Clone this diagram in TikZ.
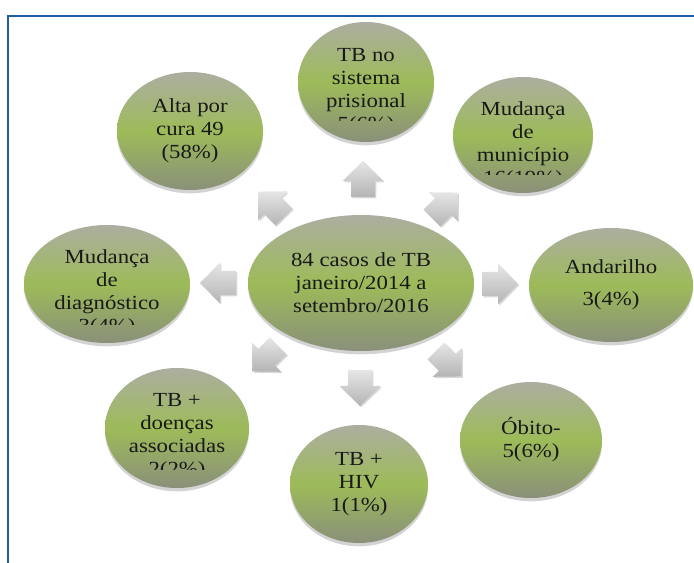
\documentclass[tikz,border=0pt]{standalone}
\usepackage{fontspec}
\setmainfont{Liberation Serif}[FakeStretch=1.14]
\usepackage{tikz}
\usetikzlibrary{shapes.geometric, shadows}

\definecolor{frameblue}{RGB}{30,92,165}
\definecolor{olive}{RGB}{157,187,89}
\definecolor{greytop}{RGB}{172,174,160}
\definecolor{greybot}{RGB}{138,144,122}
\definecolor{arrowlight}{RGB}{230,230,230}
\definecolor{arrowdark}{RGB}{180,180,180}

\begin{document}
\begin{tikzpicture}[x=0.75pt, y=-0.75pt,
                    font=\fontsize{15}{17.25}\selectfont]
\tikzstyle{bubble}=[shape=ellipse, inner sep=0pt, align=center, text=black!90,
                    top color=greytop, bottom color=greybot, middle color=olive,
                    drop shadow={shadow xshift=0pt, shadow yshift=-2.5pt,
                    opacity=0.35}]
\tikzstyle{txt}=[align=center, inner sep=0pt, text=black!90]
\tikzstyle{blockarrow}=[top color=arrowlight, bottom color=arrowdark,
                    drop shadow={shadow xshift=1pt, shadow yshift=-1pt,
                    opacity=0.3}]
  \useasboundingbox (0,0) rectangle (694,563);
  \draw[frameblue, line width=1.6pt] (8,563) -- (8,16) -- (694,16);

  % centre
  \node[bubble, minimum width=169.5pt, minimum height=102pt] (casos) at (361,283)
       {84 casos de TB\\janeiro/2014 a\\setembro/2016};

  % outer bubbles
  \node[bubble, minimum width=109.5pt, minimum height=88.5pt] (alta) at (190,131)
       {Alta por\\cura 49\\(58\%)};
  \node[bubble, minimum width=102pt, minimum height=90pt] (prisional) at (366,82) {};
  \node[bubble, minimum width=105pt, minimum height=87pt] (municipio) at (523,135) {};
  \node[bubble, minimum width=124.5pt, minimum height=88.5pt] (diag) at (107,284) {};
  \node[bubble, minimum width=123pt, minimum height=85.5pt] (andarilho) at (611,285)
       {Andarilho\\[7pt]3(4\%)};
  \node[bubble, minimum width=108pt, minimum height=90pt] (doencas) at (177,428) {};
  \node[bubble, minimum width=103.5pt, minimum height=88.5pt] (hiv) at (359,484)
       {TB +\\HIV\\1(1\%)};
  \node[bubble, minimum width=106.5pt, minimum height=87pt] (obito) at (531,440)
       {Óbito-\\5(6\%)};

  % texts running out of their bubble
  \begin{scope}
    \clip (290,20) rectangle (440,121);
    \node[txt] (prisional-t) at (366,92) {TB no\\sistema\\prisional\\5(6\%)};
  \end{scope}
  \begin{scope}
    \clip (450,70) rectangle (600,175);
    \node[txt] (municipio-t) at (523,145) {Mudança\\de\\município\\16(19\%)};
  \end{scope}
  \begin{scope}
    \clip (20,220) rectangle (200,325);
    \node[txt] (diag-t) at (107,293) {Mudança\\de\\diagnóstico\\3(4\%)};
  \end{scope}
  \begin{scope}
    \clip (100,360) rectangle (260,470);
    \node[txt] (doencas-t) at (177,437) {TB +\\doenças\\associadas\\2(2\%)};
  \end{scope}

  % block arrows (centre x/centre y/direction)
  \foreach \cx/\cy/\dir in {363/180/90, 272/205/135, 444/206/45, 219/283/180,
                            499/284/0, 266/358/225, 360/387/270, 448/363/315}
    \shade[blockarrow, shift={(\cx,\cy)}, rotate=\dir]
      (-17,-12) -- (-1,-12) -- (-1,-20.5) -- (19,0) -- (-1,20.5) -- (-1,12)
      -- (-17,12) -- cycle;
\end{tikzpicture}
\end{document}
